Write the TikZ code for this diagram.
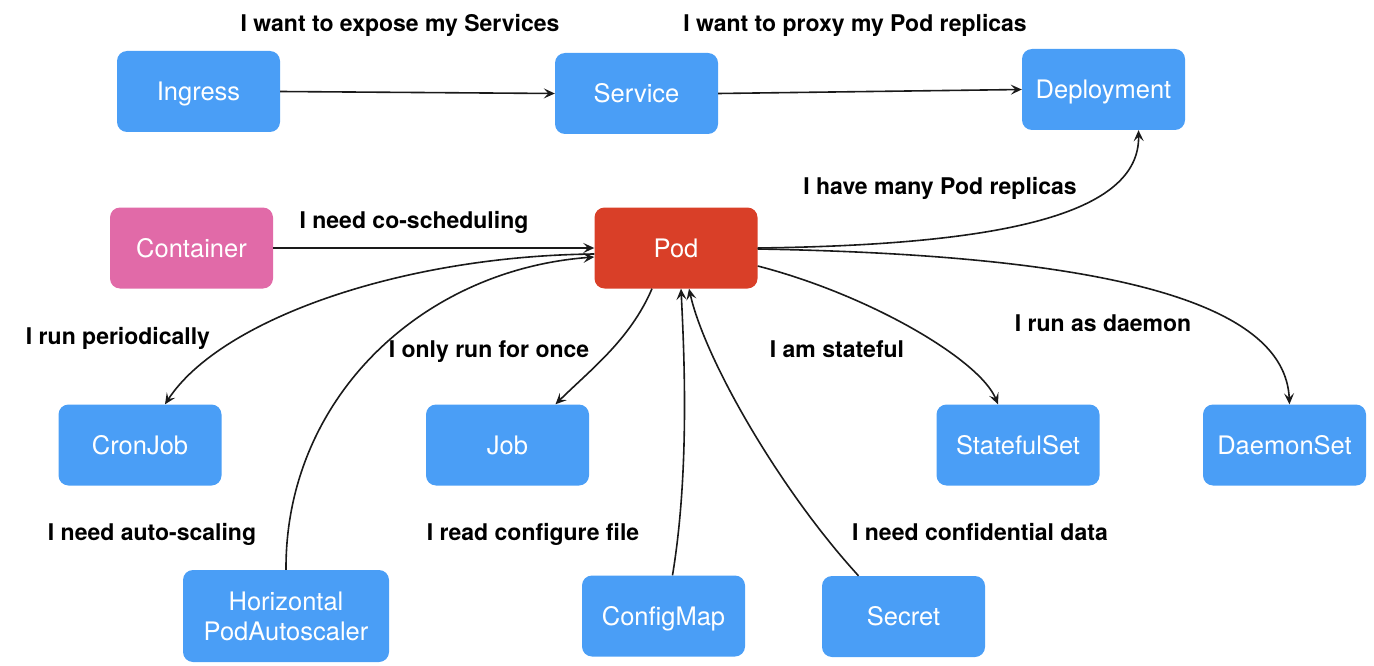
\documentclass[tikz,border=0pt]{standalone}
\usepackage{fontspec}
\setmainfont{TeX Gyre Heros}
\usetikzlibrary{arrows.meta}
\definecolor{boxblue}{HTML}{4A9EF6}
\definecolor{podred}{HTML}{D93F28}
\definecolor{cpink}{HTML}{E16AA8}
\definecolor{linegray}{HTML}{1A1A1A}
\begin{document}
\begin{tikzpicture}[x=1pt,y=-1pt,
  kbox/.style={rounded corners=10pt, fill=boxblue, text=white,
    minimum width=163pt, minimum height=81pt, inner sep=0pt,
    font=\fontsize{25.5}{30}\selectfont, text height=18.4pt, text depth=0pt},
  lbl/.style={font=\bfseries\fontsize{23}{28}\selectfont, anchor=base, inner sep=0pt},
  conn/.style={line width=1.6pt, draw=linegray,
    -{Stealth[length=11pt,width=10pt,inset=4.5pt]}}]
\useasboundingbox (0,0) rectangle (1374,666);

% top row
\node[kbox] (ingress) at (198.5,91.5) {Ingress};
\node[kbox] (service) at (636.5,93.5) {Service};
\node[kbox] (deploy) at (1103.5,89.5) {Deployment};

% middle row
\node[kbox, fill=cpink] (container) at (191.5,248) {Container};
\node[kbox, fill=podred] (pod) at (676,248) {Pod};

% controllers below the Pod
\node[kbox] (cronjob) at (140,445) {CronJob};
\node[kbox] (job) at (507.5,445) {Job};
\node[kbox] (sts) at (1018,445) {StatefulSet};
\node[kbox] (ds) at (1284.5,445) {DaemonSet};

% bottom row
\node[kbox, minimum width=206pt, minimum height=92pt, text height=, text depth=, align=center]
  (hpa) at (286,616) {Horizontal\\PodAutoscaler};
\node[kbox] (cm) at (663.5,616) {ConfigMap};
\node[kbox] (secret) at (903.5,616.5) {Secret};

% labels
\node[lbl] (l1) at (400,31.5) {I want to expose my Services};
\node[lbl] (l2) at (855,31.5) {I want to proxy my Pod replicas};
\node[lbl] (l3) at (940,194) {I have many Pod replicas};
\node[lbl] (l4) at (414,228) {I need co-scheduling};
\node[lbl] (l5) at (118,344) {I run periodically};
\node[lbl] (l6) at (489,357) {I only run for once};
\node[lbl] (l7) at (837,357) {I am stateful};
\node[lbl] (l8) at (1103,331) {I run as daemon};
\node[lbl] (l9) at (152,540) {I need auto-scaling};
\node[lbl] (l10) at (533,540) {I read configure file};
\node[lbl] (l11) at (980,540) {I need confidential data};

% connectors
\draw[conn] (ingress.east) -- (service.west);
\draw[conn] (service.east) -- (deploy.west);
\draw[conn] (container.east) -- (pod.west);
\draw[conn] (pod.east) .. controls (1000,245) and (1140,215) .. ([xshift=35pt]deploy.south);
\draw[conn] ([yshift=-6pt]pod.west) .. controls (400,256) and (220,320) .. ([xshift=25pt]cronjob.north);
\draw[conn] (hpa.north) .. controls (285,400) and (420,270) .. ([yshift=-9pt]pod.west);
\draw[conn] ([xshift=-24pt]pod.south) .. controls (630,340) and (590,370) .. ([xshift=48pt]job.north);
\draw[conn] ([xshift=9pt]cm.north) .. controls (690,470) and (684,350) .. ([xshift=5pt]pod.south);
\draw[conn] ([xshift=-45pt]secret.north) .. controls (780,490) and (705,360) .. ([xshift=13pt]pod.south);
\draw[conn] ([yshift=-18pt]pod.east) .. controls (870,295) and (980,360) .. ([xshift=-20pt]sts.north);
\draw[conn] ([yshift=-1pt]pod.east) .. controls (1100,255) and (1285,300) .. ([xshift=5pt]ds.north);
\end{tikzpicture}
\end{document}
